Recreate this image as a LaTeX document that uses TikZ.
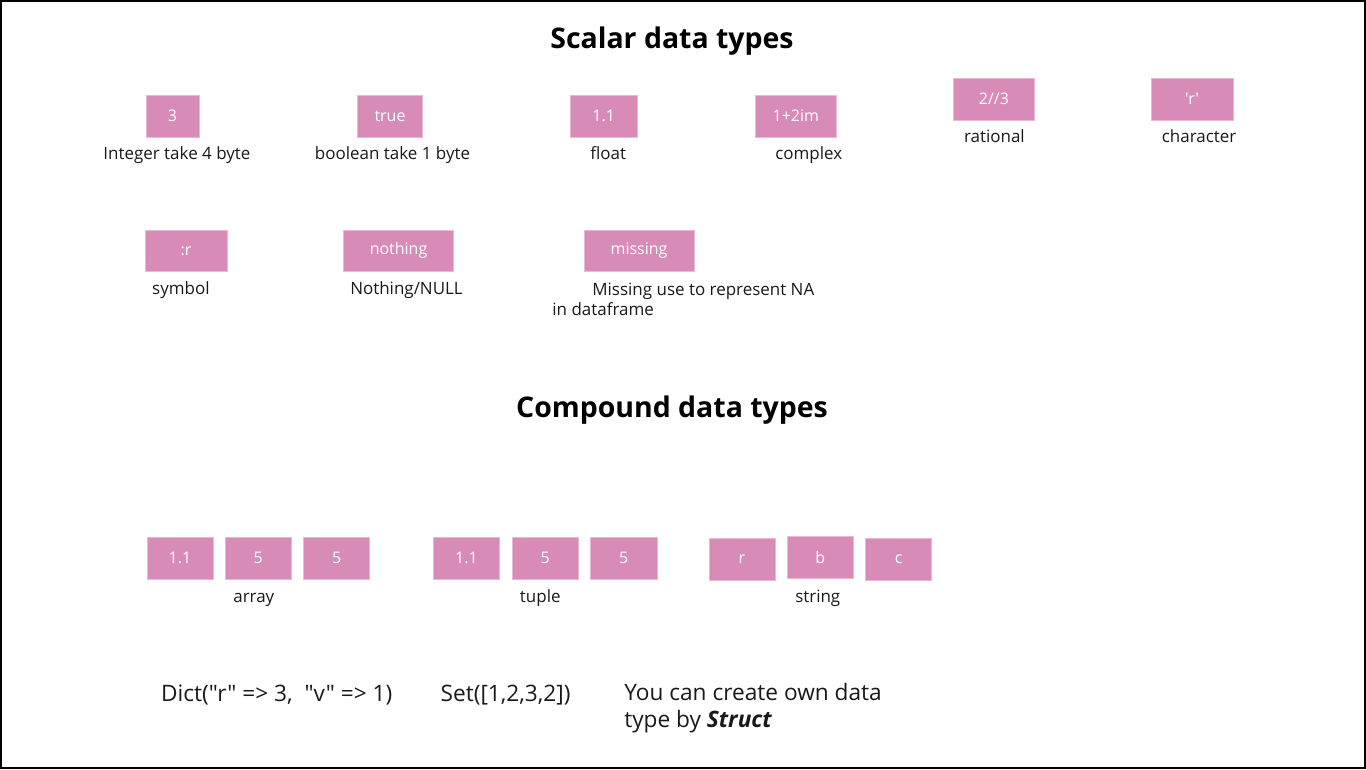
\documentclass[tikz,border=0pt]{standalone}
\usepackage{fontspec}
\setmainfont{Open Sans}[Ligatures=TeXOff]
\usepackage{tikz}
\usetikzlibrary{positioning}
\definecolor{boxpink}{HTML}{D98BB7}

\begin{document}
\begin{tikzpicture}[x=1pt,y=-1pt,
  val/.style={fill=boxpink,draw=boxpink!60!white,line width=0.6pt,text=white,minimum height=42pt,inner sep=0pt,font=\fontsize{16}{19}\selectfont},
  lbl/.style={font=\fontsize{17}{20}\selectfont,text=black!90,text height=12pt,text depth=4pt},
  title/.style={font=\fontsize{28.5}{34}\selectfont\bfseries},
  note/.style={font=\fontsize{22.7}{27}\selectfont,text=black!90}]

% Frame.
\draw[line width=2.5pt] (0,0) rectangle (1366,768);
\useasboundingbox (0,0) rectangle (1366,768);

% SCALAR

\node[title] (scalar) at (672,40) {Scalar data types};

% Integer and boolean.
\node[val,minimum width=53pt] (int) at (171.5,115) {3};
\node[lbl] (intl) at (176,155) {Integer take 4 byte};
\node[val,minimum width=65pt] (bool) at (389.5,115) {true};
\node[lbl] (booll) at (392,155) {boolean take 1 byte};

% Float and complex.
\node[val,minimum width=67pt] (flt) at (603.5,115) {1.1};
\node[lbl] (fltl) at (608,155) {float};
\node[val,minimum width=82pt] (cpx) at (796,115) {1+2im};
\node[lbl] (cpxl) at (809,155) {complex};

% Rational and character.
\node[val,minimum width=81pt] (rat) at (994.5,98) {2//3};
\node[lbl] (ratl) at (995,138) {rational};
\node[val,minimum width=82pt] (chr) at (1193,98) {'r'};
\node[lbl] (chrl) at (1200,138) {character};

% Symbol, nothing, missing.
\node[val,minimum width=82pt] (sym) at (185,250) {:r};
\node[lbl] (syml) at (180,290) {symbol};
\node[val,minimum width=110pt] (non) at (398,250) {nothing};
\node[lbl] (nonl) at (406,290) {Nothing/NULL};
\node[val,minimum width=110pt] (mis) at (639,250) {missing};
\node[lbl,align=left,anchor=north west,inner sep=0pt,text height=,text depth=] (misl) at (552,282)
  {\hspace*{40pt}Missing use to represent NA\\in dataframe};

% COMPOUND

\node[title] (compound) at (672,410) {Compound data types};

% Array.
\node[val,minimum width=66pt] (arr1) at (179,558) {1.1};
\node[val,minimum width=67pt] (arr2) at (257.5,558) {5};
\node[val,minimum width=66pt] (arr3) at (336,558) {5};
\node[lbl] (arrl) at (253,598) {array};

% Tuple.
\node[val,minimum width=66pt] (tup1) at (466,558) {1.1};
\node[val,minimum width=66pt] (tup2) at (545,558) {5};
\node[val,minimum width=67pt] (tup3) at (623.5,558) {5};
\node[lbl] (tupl) at (540,598) {tuple};

% String.
\node[val,minimum width=66pt] (str1) at (742,559) {r};
\node[val,minimum width=67pt] (str2) at (820.5,557) {b};
\node[val,minimum width=66pt] (str3) at (899,559) {c};
\node[lbl] (strl) at (818,598) {string};

% Dict, set, struct.
\node[note,anchor=west,inner sep=0pt] (dict) at (160,695) {Dict("r" => 3,\ \ "v" => 1)};
\node[note,anchor=west,inner sep=0pt] (set) at (440,695) {Set([1,2,3,2])};
\node[note,anchor=north west,align=left,inner sep=0pt] (own) at (624,683)
  {You can create own data\\type by \textbf{\itshape Struct}};

\end{tikzpicture}
\end{document}
